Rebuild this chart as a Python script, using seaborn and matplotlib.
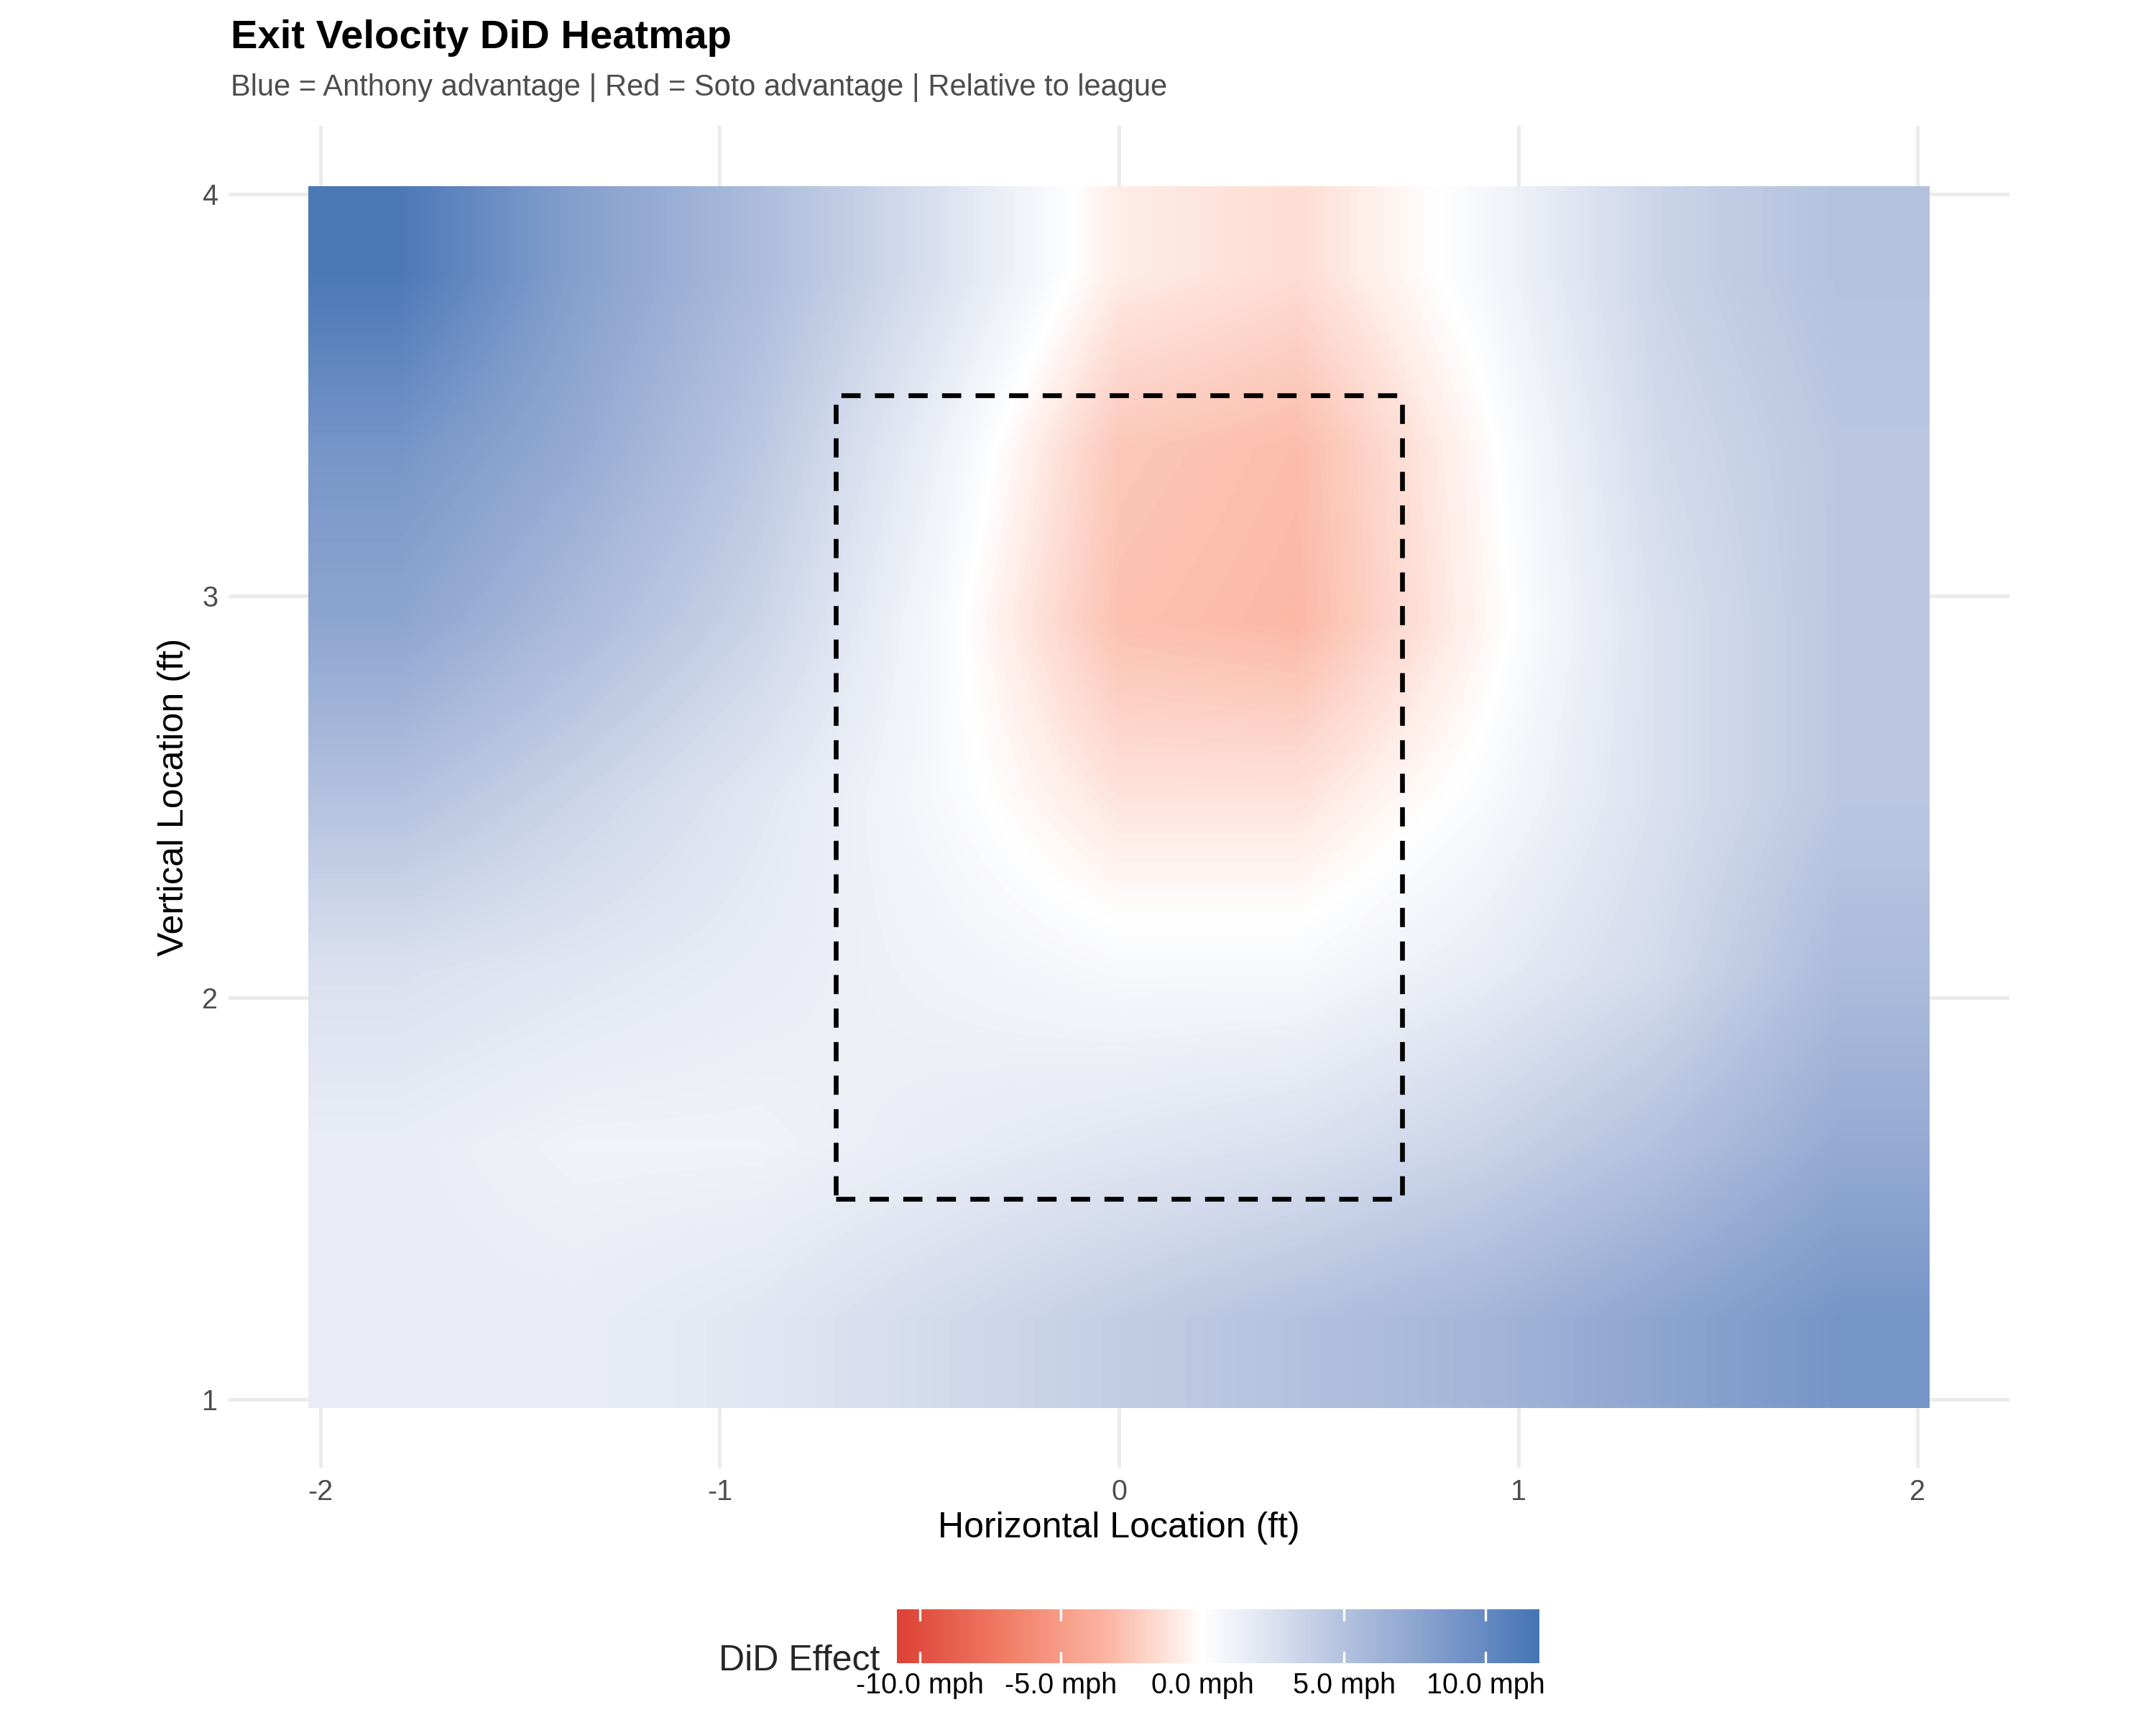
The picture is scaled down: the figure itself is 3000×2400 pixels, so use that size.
import numpy as np
import matplotlib
matplotlib.use("Agg")
import matplotlib.pyplot as plt
import seaborn as sns
from matplotlib.colors import LinearSegmentedColormap, Normalize

# ---- Data (coarse grid) ----
x_locs = [-2.0, -1.5, -1.0, -0.5, 0.0, 0.5, 1.0, 1.5, 2.0]
y_locs = [4.0, 3.5, 3.0, 2.5, 2.0, 1.5, 1.0]
did_row_40 = [11.5, 8.0, 5.5, 2.5, -0.8, -1.5, 0.5, 3.5, 5.0]
did_row_35 = [9.0, 7.0, 4.5, 1.2, -2.5, -3.0, -0.3, 3.0, 4.5]
did_row_30 = [7.5, 5.5, 3.5, 0.5, -2.8, -3.2, -0.5, 2.5, 4.5]
did_row_25 = [5.0, 3.5, 2.0, 0.5, -1.2, -1.2, 0.3, 2.5, 4.5]
did_row_20 = [2.5, 2.0, 1.5, 1.0, 0.5, 0.5, 1.5, 3.0, 5.5]
did_row_15 = [1.5, 1.0, 1.0, 1.5, 2.0, 2.5, 3.5, 5.0, 7.0]
did_row_10 = [1.5, 1.5, 2.0, 3.0, 4.0, 5.0, 6.0, 7.5, 9.0]
zone_x = [-0.71, 0.71]
zone_y = [1.5, 3.5]
cbar_ticks = [-10, -5, 0, 5, 10]

grid = np.array([did_row_40, did_row_35, did_row_30, did_row_25,
                 did_row_20, did_row_15, did_row_10])

sns.set_theme(style="whitegrid")
plt.rcParams.update({
    "font.family": ["Liberation Sans", "DejaVu Sans"],
    "axes.facecolor": "white",
    "grid.color": "#ebebeb",
    "grid.linewidth": 1.2,
    "axes.edgecolor": "white",
    "axes.unicode_minus": False,
})

cmap = LinearSegmentedColormap.from_list("did", [
    (0.0, "#d73027"), (0.22, "#f2826b"), (0.36, "#fbb6a4"), (0.44, "#fedfd6"),
    (0.5, "#ffffff"), (0.58, "#e4e8f3"), (0.72, "#b0bfdd"), (0.86, "#7e9acb"),
    (1.0, "#4575b4")])
norm = Normalize(vmin=-11.9, vmax=11.9)

fig = plt.figure(figsize=(10, 8), dpi=300)
ax = fig.add_axes([0.106, 0.149, 0.826, 0.778])
im = ax.imshow(grid, cmap=cmap, norm=norm, interpolation="bilinear", aspect="auto",
               extent=[x_locs[0] - 0.03, x_locs[-1] + 0.03, y_locs[-1] - 0.02, y_locs[0] + 0.02],
               zorder=2)
ax.plot([zone_x[0], zone_x[1], zone_x[1], zone_x[0], zone_x[0]],
        [zone_y[0], zone_y[0], zone_y[1], zone_y[1], zone_y[0]],
        color="black", linestyle=(0, (4, 3)), linewidth=1.6, zorder=3)

ax.set_xlim(-2.23, 2.23)
ax.set_ylim(0.83, 4.17)
ax.set_xticks([-2, -1, 0, 1, 2])
ax.set_yticks([1, 2, 3, 4])
ax.tick_params(labelsize=9.5, colors="#4d4d4d", length=0)
ax.set_xlabel("Horizontal Location (ft)", fontsize=12, color="black", labelpad=2)
ax.set_ylabel("Vertical Location (ft)", fontsize=12, color="black")
ax.grid(True, zorder=0)
for s in ax.spines.values():
    s.set_visible(False)

fig.text(0.107, 0.978, "Exit Velocity DiD Heatmap", fontsize=13.5, fontweight="bold",
         va="center", color="black")
fig.text(0.107, 0.949, "Blue = Anthony advantage | Red = Soto advantage | Relative to league",
         fontsize=10, color="#4d4d4d", va="center")

cax = fig.add_axes([0.416, 0.036, 0.298, 0.031])
cb = fig.colorbar(im, cax=cax, orientation="horizontal")
cb.ax.set_xlim(-10.8, 11.9)
cb.set_ticks(cbar_ticks)
cb.set_ticklabels([f"{t:.1f} mph" for t in cbar_ticks])
cb.outline.set_visible(False)
cb.ax.tick_params(labelsize=9.5, length=0, pad=3, colors="black")
for t in cbar_ticks:
    cb.ax.axvline(t, color="white", linewidth=0.8, ymin=0, ymax=0.2)
    cb.ax.axvline(t, color="white", linewidth=0.8, ymin=0.8, ymax=1)
fig.text(0.408, 0.037, "DiD Effect", fontsize=12, ha="right", va="center")

fig.savefig("out.png", dpi=300, facecolor="white")
